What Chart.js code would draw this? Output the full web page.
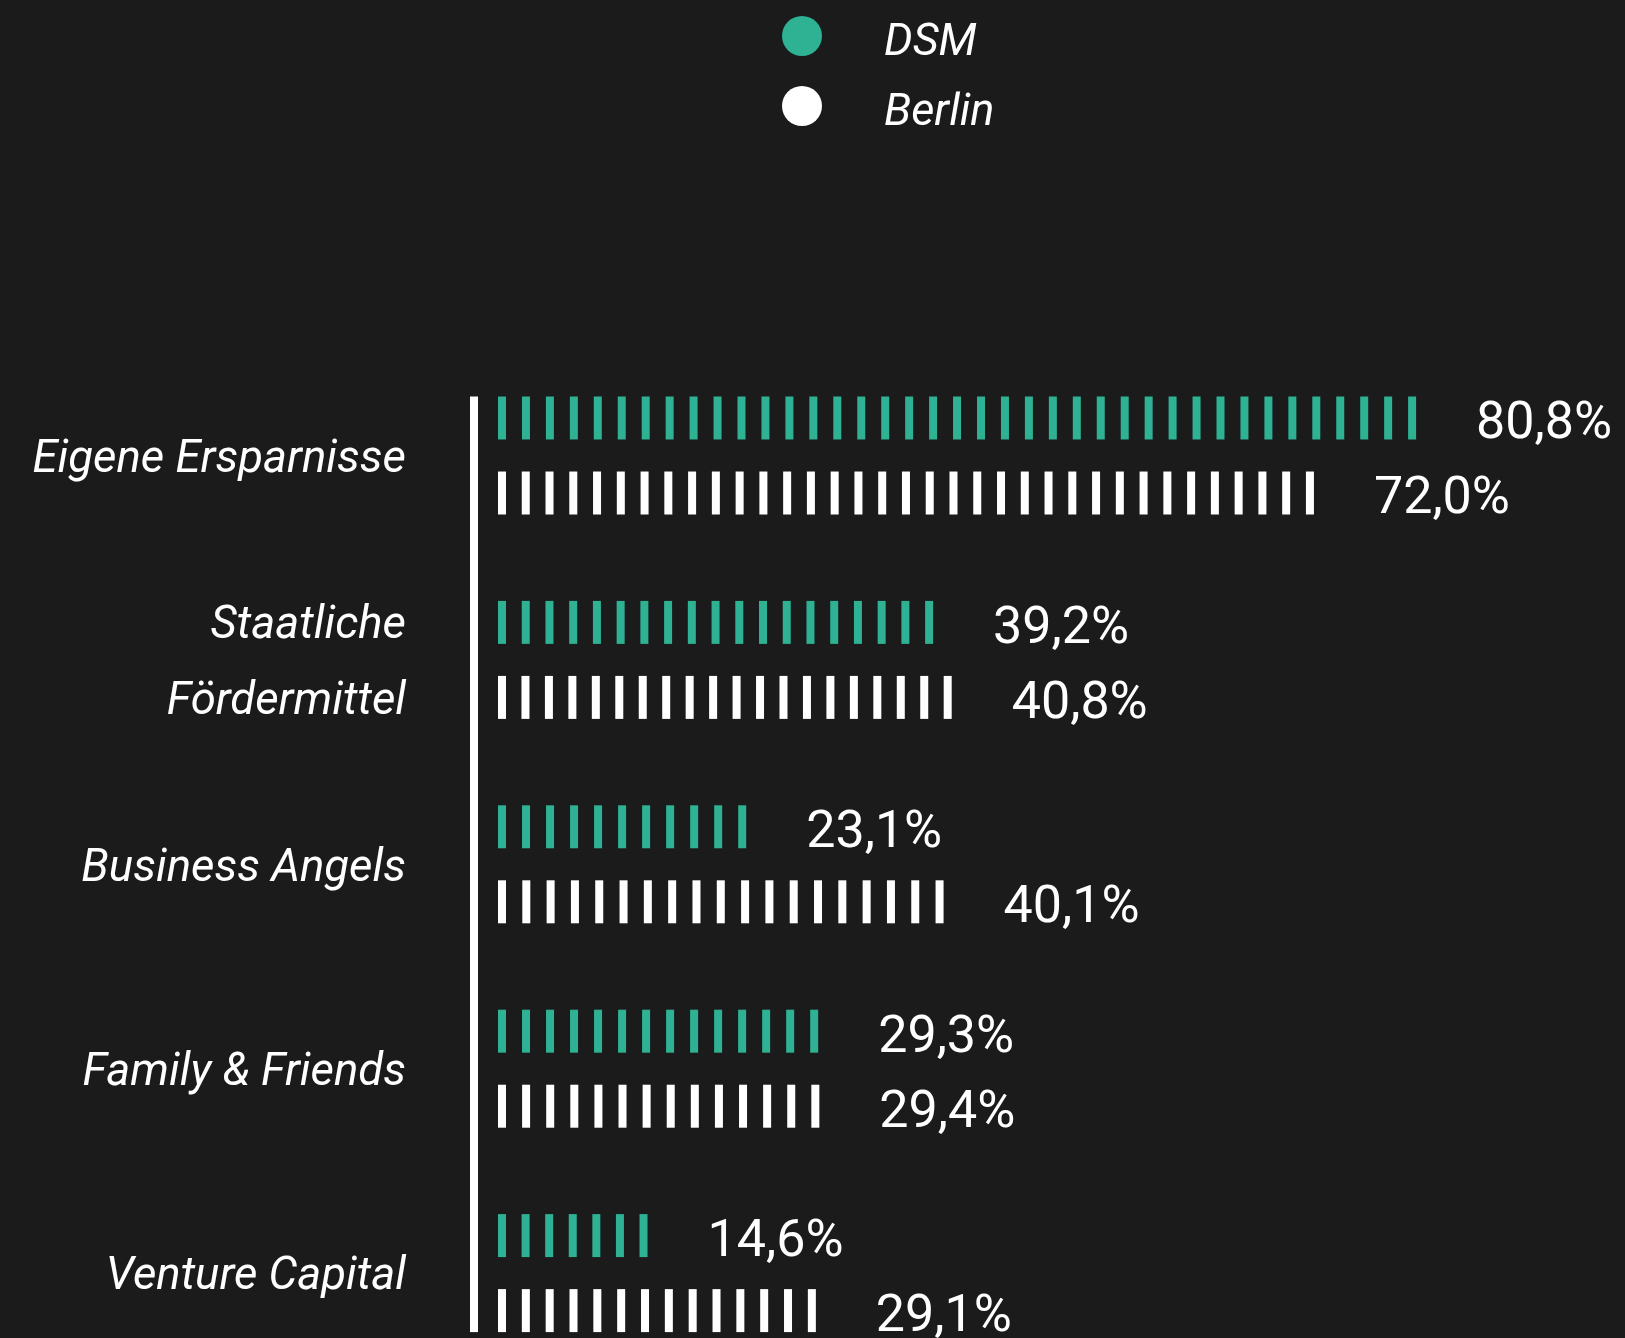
<!DOCTYPE html>
<html lang="de">
<head>
<meta charset="utf-8">
<title>Finanzierungsquellen</title>
<script src="https://cdn.jsdelivr.net/npm/chart.js@4.4.1/dist/chart.umd.min.js"></script>
<style>
  html, body { margin: 0; padding: 0; background: #1b1b1b; overflow: hidden; }
  .chart-container { position: relative; width: 1625px; height: 1400px; }
</style>
</head>
<body>
<div class="chart-container"><canvas id="fundingChart"></canvas></div>
<script>
const categories = ['Eigene Ersparnisse', ['Staatliche', 'Fördermittel'], 'Business Angels', 'Family & Friends', 'Venture Capital'];
const dsmValues = [80.8, 39.2, 23.1, 29.3, 14.6];
const berlinValues = [72.0, 40.8, 40.1, 29.4, 29.1];
const seriesNames = ['DSM', 'Berlin'];
const seriesColors = ['#2eb293', '#ffffff'];

const fmt = v => v.toFixed(1).replace('.', ',') + '%';

// bars are drawn as rows of thin vertical stripes
const stripedBars = {
  id: 'stripedBars',
  afterDatasetsDraw(chart) {
    const ctx = chart.ctx;
    ctx.save();
    chart.data.datasets.forEach((ds, i) => {
      const meta = chart.getDatasetMeta(i);
      meta.data.forEach((bar, j) => {
        const start = bar.base + 20;
        const len = bar.x - start;
        const n = Math.max(1, Math.round((len + 16) / 24));
        const pitch = n > 1 ? (len - 8) / (n - 1) : 0;
        const top = bar.y - bar.height / 2;
        ctx.fillStyle = seriesColors[i];
        for (let k = 0; k < n; k++) {
          ctx.fillRect(start + k * pitch, top, 8, bar.height);
        }
        // value label
        ctx.font = '52px Roboto';
        ctx.textAlign = 'left';
        ctx.textBaseline = 'alphabetic';
        ctx.fillStyle = '#ffffff';
        ctx.fillText(fmt(ds.data[j]), bar.x + 60, bar.y + bar.height / 2 - 1);
      });
    });

    // axis line from first bar top to last bar bottom
    const first = chart.getDatasetMeta(0).data[0];
    const lastMeta = chart.getDatasetMeta(chart.data.datasets.length - 1);
    const last = lastMeta.data[lastMeta.data.length - 1];
    const x0 = chart.scales.x.getPixelForValue(0);
    const y0 = first.y - first.height / 2;
    ctx.fillStyle = '#ffffff';
    ctx.fillRect(x0 - 8, y0, 8, (last.y + last.height / 2) - y0);
    ctx.restore();
  }
};

// legend stacked vertically at the top
const stackedLegend = {
  id: 'stackedLegend',
  afterDraw(chart) {
    const ctx = chart.ctx;
    ctx.save();
    chart.data.datasets.forEach((ds, i) => {
      const cy = 36 + i * 70;
      ctx.fillStyle = seriesColors[i];
      ctx.beginPath();
      ctx.arc(802, cy, 20, 0, Math.PI * 2);
      ctx.fill();
      ctx.fillStyle = '#ffffff';
      ctx.font = 'italic 45px Roboto';
      ctx.textAlign = 'left';
      ctx.textBaseline = 'alphabetic';
      ctx.fillText(ds.label, 884, cy + 19);
    });
    ctx.restore();
  }
};

const chart = new Chart(document.getElementById('fundingChart'), {
  type: 'bar',
  data: {
    labels: categories,
    datasets: [
      { label: seriesNames[0], data: dsmValues, backgroundColor: 'rgba(0,0,0,0)' },
      { label: seriesNames[1], data: berlinValues, backgroundColor: 'rgba(0,0,0,0)' }
    ]
  },
  options: {
    indexAxis: 'y',
    responsive: true,
    maintainAspectRatio: false,
    animation: false,
    categoryPercentage: 0.734,
    barPercentage: 0.573,
    layout: { padding: { top: 353.3, bottom: 24.7, left: 0, right: 9.2 } },
    plugins: {
      legend: { display: false },
      tooltip: { enabled: false }
    },
    scales: {
      x: {
        display: false,
        min: 0,
        max: 98
      },
      y: {
        afterFit: s => {
          s.width = 478;
          s.paddingTop = 0;
          s.paddingBottom = 0;
        },
        grid: { display: false, drawTicks: false },
        border: { display: false },
        ticks: {
          color: '#ffffff',
          padding: 72,
          labelOffset: 5,
          font: { family: 'Roboto', style: 'italic', size: 45.5, lineHeight: 1.68 }
        }
      }
    }
  },
  plugins: [stripedBars, stackedLegend]
});
</script>
</body>
</html>
